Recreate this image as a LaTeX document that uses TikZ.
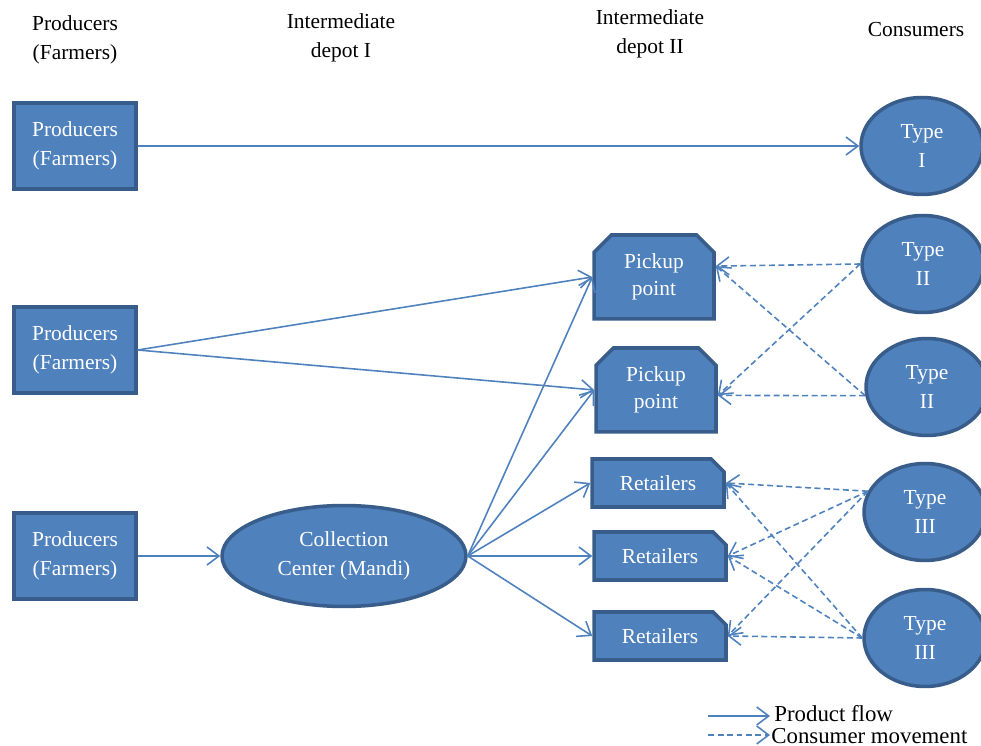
\documentclass[tikz,border=0pt]{standalone}
\usepackage{fontspec}
\setmainfont{Liberation Serif}
\usepackage{xcolor}
\definecolor{boxblue}{HTML}{4F81BD}
\definecolor{rimblue}{HTML}{385D8A}
\usetikzlibrary{shapes.geometric}
\usetikzlibrary{shapes.misc}
\usetikzlibrary{arrows.meta}
\tikzset{x=0.02cm, y=-0.02cm,
 every node/.style={font=\fontsize{12.2}{16.5}\selectfont, align=center},
 solid box/.style={draw=rimblue, fill=boxblue, line width=2pt, text=white},
 prod/.style={solid box, rectangle, minimum width=2.44cm, minimum height=1.72cm},
 mandi/.style={solid box, ellipse, minimum width=4.88cm, minimum height=2.02cm},
 pick/.style={solid box, chamfered rectangle, chamfered rectangle corners={north west, north east},
  chamfered rectangle xsep=0.24cm, minimum width=2.4cm, minimum height=1.68cm, inner sep=0pt},
 shop/.style={solid box, chamfered rectangle, chamfered rectangle corners=north east,
  chamfered rectangle xsep=0.16cm, minimum width=2.64cm, minimum height=0.96cm, inner sep=0pt},
 cons/.style={solid box, ellipse, minimum width=2.44cm, minimum height=1.94cm, inner sep=0pt},
 flow/.style={draw=boxblue, line width=0.9pt, -{Straight Barb[length=2.4mm, width=3.6mm]}},
 move/.style={flow, dash pattern=on 0.12cm off 0.07cm},
 }

\begin{document}
\begin{tikzpicture}
        \useasboundingbox (0, 0) rectangle (981, 746);
        % column heads
        \node (h1) at (75, 40) {Producers\\(Farmers)};
        \node (h2) at (341, 38) {Intermediate\\depot I};
        \node (h3) at (650, 34) {Intermediate\\depot II};
        \node (h4) at (916, 30) {Consumers};

        % producers
        \node[prod] (p1) at (75, 146) {Producers\\(Farmers)};
        \node[prod] (p2) at (75, 350) {Producers\\(Farmers)};
        \node[prod] (p3) at (75, 556) {Producers\\(Farmers)};

        \node[mandi] (cc) at (344, 556) {Collection\\Center (Mandi)};

        % depot II
        \node[pick] (pk1) at (654, 277) {\raisebox{-4pt}{\shortstack{Pickup\\[2pt]point}}};
        \node[pick] (pk2) at (656, 390) {\raisebox{-4pt}{\shortstack{Pickup\\[2pt]point}}};
        \node[shop] (r1) at (658, 483) {Retailers};
        \node[shop] (r2) at (660, 556) {Retailers};
        \node[shop] (r3) at (660, 636) {Retailers};

        % consumers
        \node[cons] (t1) at (922, 146) {Type\\I};
        \node[cons] (t2a) at (923, 264) {Type\\II};
        \node[cons] (t2b) at (927, 387) {Type\\II};
        \node[cons] (t3a) at (925, 512) {Type\\III};
        \node[cons] (t3b) at (925, 638) {Type\\III};

        % product flow
        \draw[flow] (p1.east) -- (t1.west);
        \draw[flow] (p2.east) -- (pk1.west);
        \draw[flow] (p2.east) -- (pk2.west);
        \draw[flow] (p3.east) -- (cc.west);
        \foreach \d in {pk1, pk2, r1, r2, r3} {
            \draw[flow] (cc.east) -- (\d.west);
        }

        % consumer movement
        \foreach \d in {pk1.10, pk2.-5} {
            \draw[move] (t2a.west) -- (\d);
            \draw[move] (t2b.188) -- (\d);
        }
        \foreach \d in {r1, r2, r3} {
            \draw[move] (t3a.160) -- (\d.east);
            \draw[move] (t3b.west) -- (\d.east);
        }

        % legend
        \coordinate (la) at (708, 716);
        \coordinate (lb) at (770, 716);
        \coordinate (lc) at (708, 735);
        \coordinate (ld) at (770, 735);
        \draw[flow] (la) -- (lb);
        \draw[move] (lc) -- (ld);
        \node[anchor=west, inner sep=0pt, font=\fontsize{13}{14}\selectfont] (k1) at (774, 714) {Product flow};
        \node[anchor=west, inner sep=0pt, font=\fontsize{13}{14}\selectfont] (k2) at (771, 736) {Consumer movement};
    \end{tikzpicture}
\end{document}
